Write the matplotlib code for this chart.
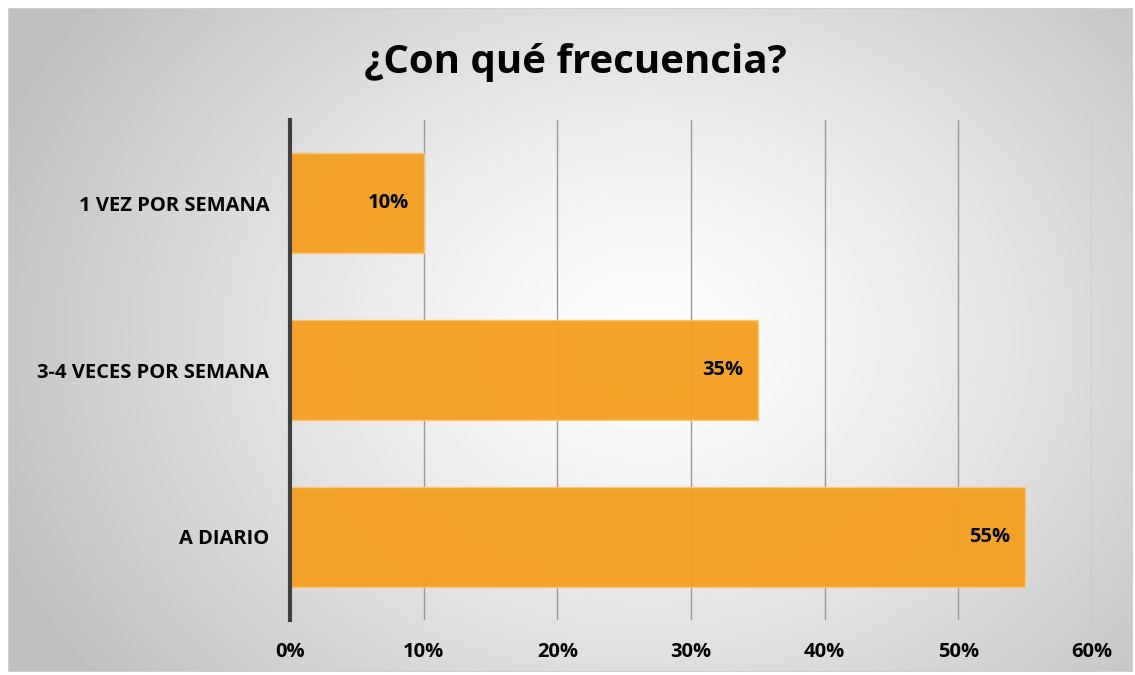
import matplotlib.pyplot as plt
import numpy as np
from matplotlib.patches import Rectangle

categorias = ['A DIARIO', '3-4 VECES POR SEMANA', '1 VEZ POR SEMANA']
porcentajes = [55, 35, 10]
ticks_x = [0, 10, 20, 30, 40, 50, 60]

plt.rcParams['font.family'] = ['Open Sans', 'DejaVu Sans']

W, H = 1135, 675
fig = plt.figure(figsize=(W / 100, H / 100), dpi=100)

# fondo con degradado radial
bg = fig.add_axes([8 / W, 3 / H, 1125 / W, 664 / H])
yy, xx = np.mgrid[0:664, 0:1125]
r = np.sqrt(((xx - 640) / 700.0) ** 2 + ((yy - 330) / 560.0) ** 2)
shade = 1.0 - 0.25 * np.clip(r, 0, 1) ** 1.3
bg.imshow(np.dstack([shade] * 3), aspect='auto', extent=[0, 1, 0, 1])
bg.set_xlim(0, 1)
bg.set_ylim(0, 1)
bg.add_patch(Rectangle((0, 0), 1, 1, fill=False, edgecolor='#d0d0d0', lw=1.5))
bg.set_axis_off()

ax = fig.add_axes([290 / W, 55 / H, 802 / W, 500 / H])
ax.patch.set_alpha(0)
y = np.arange(len(categorias))
ax.barh(y, porcentajes, height=0.6, color='#f59f1f', alpha=0.95,
        edgecolor='#f8c77a', linewidth=1, zorder=3)

for yi, v in zip(y, porcentajes):
    ax.text(v - 1.1, yi, f'{v}%', ha='right', va='center', fontsize=14.5,
            fontweight='bold', color='black', zorder=4)

ax.set_xlim(0, 60)
ax.set_ylim(-0.5, len(categorias) - 0.5)
ax.set_xticks(ticks_x)
ax.set_xticklabels([f'{t}%' for t in ticks_x], fontsize=14.5, fontweight='bold')
ax.set_yticks(y)
ax.set_yticklabels(categorias, fontsize=14.5, fontweight='bold')
ax.tick_params(length=0, pad=15, axis='y')
ax.tick_params(length=0, pad=16, axis='x')
ax.grid(axis='x', color='#9a9a9a', linewidth=1, zorder=0)
ax.grid(axis='y', visible=False)
for s in ['top', 'right', 'bottom']:
    ax.spines[s].set_visible(False)
ax.spines['left'].set_color('#404040')
ax.spines['left'].set_linewidth(3)
ax.spines['left'].set_zorder(5)

fig.text(575 / W, 1 - 63 / H, '¿Con qué frecuencia?', ha='center', va='center',
         fontsize=29, fontweight='bold')

fig.savefig('out.png', dpi=100, facecolor='white')
